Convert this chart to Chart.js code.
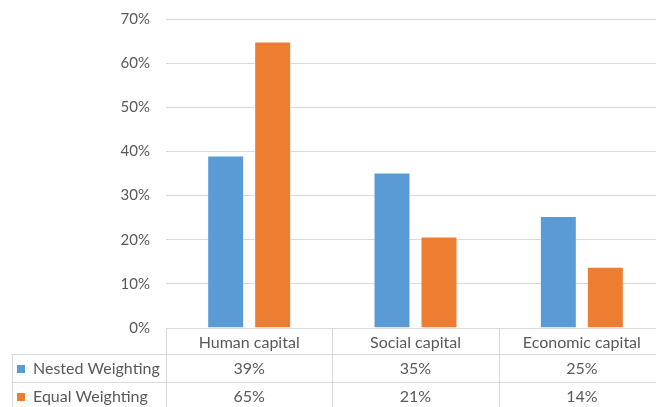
<!DOCTYPE html>
<html>
<head>
<meta charset="utf-8">
<script src="https://cdn.jsdelivr.net/npm/chart.js@4"></script>
<style>
html,body{margin:0;padding:0;background:#fff;}
#wrap{width:656px;height:407px;overflow:hidden;position:relative;}
canvas{display:block;}
</style>
</head>
<body>
<div id="wrap"><canvas id="c" width="665" height="407"></canvas></div>
<script>
const categories = ["Human capital", "Social capital", "Economic capital"];
const seriesNames = ["Nested Weighting", "Equal Weighting"];
const nestedWeighting = [0.391, 0.352, 0.254];
const equalWeighting = [0.649, 0.207, 0.139];
const yTicks = [0, 0.1, 0.2, 0.3, 0.4, 0.5, 0.6, 0.7];
const colors = ["#5B9BD5", "#ED7D31"];

const FONT = "Lato, 'Open Sans', sans-serif";
const TEXT = "#595959";
const LINE = "#d9d9d9";

const tablePlugin = {
  id: 'dataTable',
  afterDraw(chart) {
    const ctx = chart.ctx;
    const x = chart.scales.x;
    const area = chart.chartArea;
    const n = categories.length;
    const colW = (area.right - area.left) / n;
    const top = Math.round(area.bottom) + 0.5;
    const rowH = [26, 28, 28];
    const y1 = top + rowH[0];
    const y2 = y1 + rowH[1];
    const y3 = y2 + rowH[2];
    const leftX = 12.5;
    ctx.save();
    ctx.strokeStyle = LINE;
    ctx.lineWidth = 1;
    ctx.beginPath();
    ctx.moveTo(area.left, top); ctx.lineTo(area.right, top);
    ctx.moveTo(leftX, y1); ctx.lineTo(area.right, y1);
    ctx.moveTo(leftX, y2); ctx.lineTo(area.right, y2);
    ctx.moveTo(leftX, y3); ctx.lineTo(area.right, y3);
    ctx.moveTo(leftX, y1); ctx.lineTo(leftX, y3);
    for (let i = 0; i <= n; i++) {
      const vx = Math.round(area.left + i * colW) + 0.5;
      ctx.moveTo(vx, top); ctx.lineTo(vx, y3);
    }
    ctx.stroke();

    ctx.fillStyle = TEXT;
    ctx.font = "16px " + FONT;
    ctx.textAlign = "center";
    ctx.textBaseline = "middle";
    const series = [nestedWeighting, equalWeighting];
    for (let i = 0; i < n; i++) {
      const cx = x.getPixelForValue(i);
      ctx.fillText(categories[i], cx, top + rowH[0] / 2 + 1);
      ctx.fillText(Math.round(series[0][i] * 100) + "%", cx, y1 + rowH[1] / 2);
      ctx.fillText(Math.round(series[1][i] * 100) + "%", cx, y2 + rowH[2] / 2);
    }
    ctx.textAlign = "left";
    const rowsY = [y1 + rowH[1] / 2, y2 + rowH[2] / 2];
    for (let s = 0; s < 2; s++) {
      ctx.fillStyle = colors[s];
      ctx.fillRect(17, Math.round(rowsY[s]) - 4, 8, 8);
      ctx.fillStyle = TEXT;
      ctx.fillText(seriesNames[s], 33, rowsY[s]);
    }
    ctx.restore();
  }
};

new Chart(document.getElementById('c'), {
  type: 'bar',
  data: {
    labels: categories,
    datasets: [
      { label: seriesNames[0], data: nestedWeighting, backgroundColor: colors[0], borderColor: "rgba(255,255,255,0.35)", borderWidth: 1, categoryPercentage: 0.565, barPercentage: 0.787 },
      { label: seriesNames[1], data: equalWeighting, backgroundColor: colors[1], borderColor: "rgba(255,255,255,0.35)", borderWidth: 1, categoryPercentage: 0.565, barPercentage: 0.787 }
    ]
  },
  options: {
    responsive: false,
    animation: false,
    devicePixelRatio: 1,
    layout: { padding: { top: 19, bottom: 79, left: 0, right: 0 } },
    plugins: { legend: { display: false }, tooltip: { enabled: false } },
    scales: {
      x: { display: false },
      y: {
        min: 0, max: 0.7,
        afterFit(scale) { scale.width = 166; scale.paddingTop = 0; scale.paddingBottom = 0; },
        afterBuildTicks(scale) { scale.ticks = yTicks.map(v => ({ value: v })); },
        grid: { color: LINE, drawTicks: false, lineWidth: 1 },
        border: { display: false },
        ticks: {
          padding: 16,
          color: TEXT,
          font: { family: FONT, size: 15 },
          callback: v => Math.round(v * 100) + "%"
        }
      }
    }
  },
  plugins: [tablePlugin]
});
</script>
</body>
</html>
